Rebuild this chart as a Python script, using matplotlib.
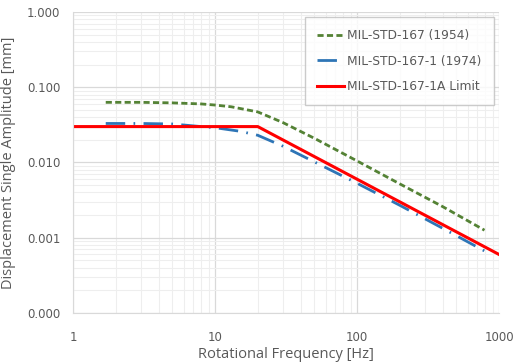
import numpy as np
import matplotlib
matplotlib.use("Agg")
import matplotlib.pyplot as plt
from matplotlib.ticker import FixedLocator, FixedFormatter, LogLocator, NullFormatter

# === Datos ===
f_1954 = [1.7, 3, 5, 8, 10, 13, 16, 20, 30, 50, 100, 200, 400, 790]
d_1954 = [0.063, 0.063, 0.062, 0.060, 0.058, 0.055, 0.051, 0.047, 0.034, 0.021, 0.0105, 0.0052, 0.0026, 0.00126]

f_1974 = [1.7, 3, 5, 8, 10, 15, 20, 30, 50, 100, 200, 400, 837]
d_1974 = [0.033, 0.033, 0.0325, 0.030, 0.029, 0.026, 0.023, 0.0165, 0.0102, 0.0053, 0.0027, 0.00134, 0.00063]

f_1a = [1, 20, 1000]
d_1a = [0.030, 0.030, 0.0006]

etiquetas = ["MIL-STD-167 (1954)", "MIL-STD-167-1 (1974)", "MIL-STD-167-1A Limit"]

gris = "#595959"

fig = plt.figure(figsize=(5.19, 3.63), dpi=100)
ax = fig.add_axes([0.1407, 0.1377, 0.8208, 0.8293])

ax.plot(f_1954, d_1954, color="#548235", lw=2, dashes=(2.2, 1.2), label=etiquetas[0])
ax.plot(f_1974, d_1974, color="#2e75b6", lw=2, dashes=(7, 3, 0.6, 3), label=etiquetas[1])
ax.plot(f_1a, d_1a, color="#ff0000", lw=2.2, label=etiquetas[2])

ax.set_xscale("log")
ax.set_yscale("log")
ax.set_xlim(1, 1000)
ax.set_ylim(0.0001, 1)

# grilla
ax.xaxis.set_minor_locator(LogLocator(base=10, subs=np.arange(2, 10)))
ax.yaxis.set_minor_locator(LogLocator(base=10, subs=np.arange(2, 10)))
ax.xaxis.set_minor_formatter(NullFormatter())
ax.yaxis.set_minor_formatter(NullFormatter())
ax.grid(which="major", color="#d9d9d9", lw=0.9)
ax.grid(which="minor", color="#eeeeee", lw=0.8)
ax.set_axisbelow(True)

ax.xaxis.set_major_locator(FixedLocator([1, 10, 100, 1000]))
ax.xaxis.set_major_formatter(FixedFormatter(["1", "10", "100", "1000"]))
ax.yaxis.set_major_locator(FixedLocator([0.0001, 0.001, 0.01, 0.1, 1]))
ax.yaxis.set_major_formatter(FixedFormatter(["0.000", "0.001", "0.010", "0.100", "1.000"]))

ax.tick_params(which="both", length=0, labelsize=8.5, labelcolor=gris)
ax.tick_params(axis="x", pad=13)
ax.tick_params(axis="y", pad=9)
for s in ["top", "right"]:
    ax.spines[s].set_visible(False)
for s in ["left", "bottom"]:
    ax.spines[s].set_color("#d9d9d9")

ax.set_xlabel("Rotational Frequency [Hz]", fontsize=10.5, color=gris, family="Open Sans", labelpad=2)
ax.set_ylabel("Displacement Single Amplitude [mm]", fontsize=10.5, color=gris, family="Open Sans", labelpad=8)

leg = ax.legend(loc="upper right", bbox_to_anchor=(0.997, 0.995), fontsize=8.8, frameon=True,
                fancybox=False, edgecolor="#bfbfbf", borderpad=1.0, labelspacing=1.0,
                handlelength=2.2, handletextpad=0.3, borderaxespad=0.3)
for t in leg.get_texts():
    t.set_color(gris)

plt.savefig("out.png", dpi=100)
